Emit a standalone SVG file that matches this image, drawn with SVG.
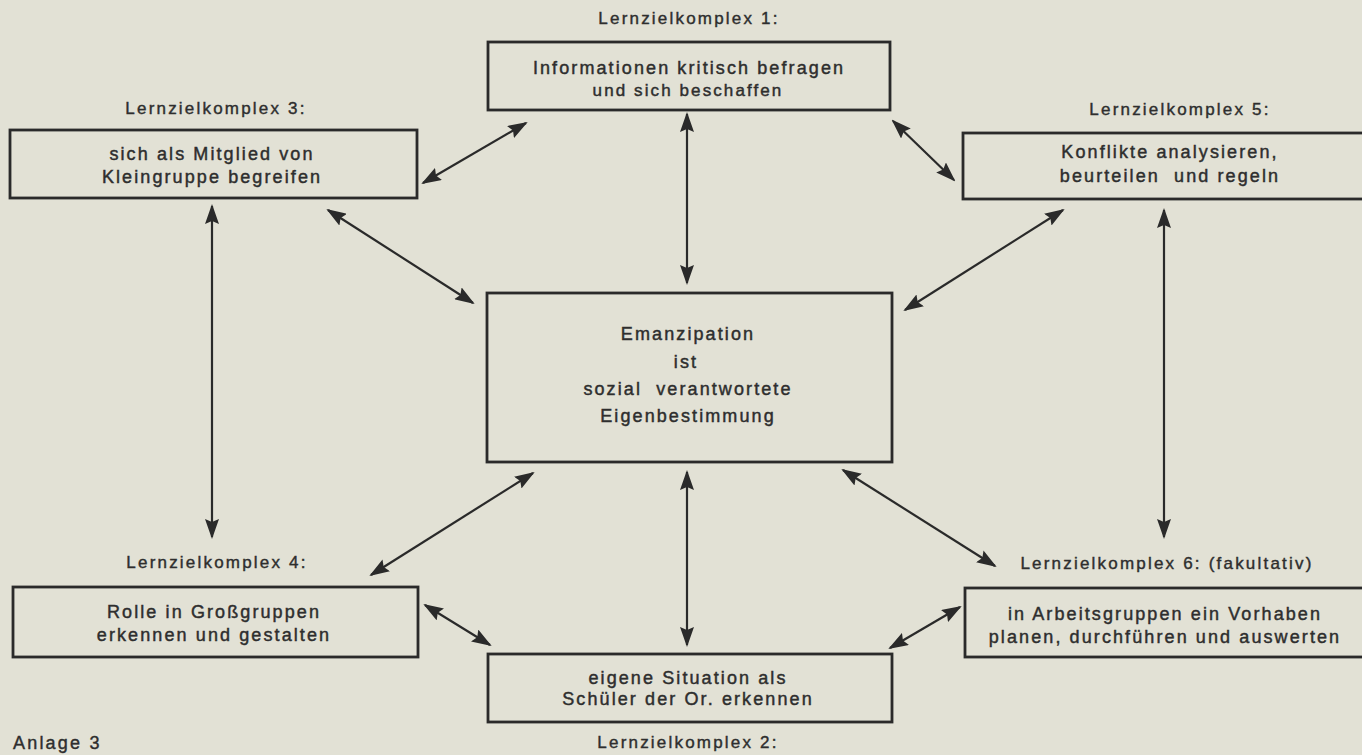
<svg xmlns="http://www.w3.org/2000/svg" width="1362" height="755" viewBox="0 0 1362 755">
<defs>
<style>
.bg{fill:#e2e1d5}
.box{fill:none;stroke:#2a2a2a;stroke-width:2.8}
.t{font-family:"Liberation Sans",Arial,sans-serif;font-size:18px;letter-spacing:2.1px;fill:#2e2e2e;stroke:#2e2e2e;stroke-width:0.45;text-anchor:middle}
.lbl{font-family:"Liberation Sans",Arial,sans-serif;font-size:17px;letter-spacing:2.2px;fill:#2e2e2e;stroke:#2e2e2e;stroke-width:0.4;text-anchor:middle}
.c{stroke:#2a2a2a;stroke-width:2.2;fill:none;marker-start:url(#ah);marker-end:url(#ah)}
</style>
<marker id="ah" viewBox="0 0 20 14" refX="18" refY="7" markerWidth="20" markerHeight="14" markerUnits="userSpaceOnUse" orient="auto-start-reverse">
<path d="M0,0 L20,7 L0,14 L3,7 Z" fill="#2a2a2a"/>
</marker>
</defs>
<rect class="bg" x="0" y="0" width="1362" height="755"/>

<g id="connectors">
<line class="c" x1="526" y1="123" x2="423" y2="183"/>
<line class="c" x1="893" y1="121" x2="954" y2="180"/>
<line class="c" x1="687" y1="114" x2="687" y2="283"/>
<line class="c" x1="328" y1="210" x2="473" y2="303"/>
<line class="c" x1="1063" y1="210" x2="905" y2="310"/>
<line class="c" x1="212" y1="206" x2="212" y2="537"/>
<line class="c" x1="1164" y1="210" x2="1164" y2="537"/>
<line class="c" x1="533" y1="473" x2="371" y2="575"/>
<line class="c" x1="843" y1="470" x2="995" y2="566"/>
<line class="c" x1="687" y1="472" x2="687" y2="645"/>
<line class="c" x1="425" y1="605" x2="490" y2="645"/>
<line class="c" x1="960" y1="607" x2="890" y2="648"/>
</g>

<g id="node1">
<text class="lbl" x="689" y="24">Lernzielkomplex 1:</text>
<rect class="box" x="488" y="42" width="402" height="68"/>
<text class="t" x="689" y="74">Informationen kritisch befragen</text>
<text class="t" x="688" y="96" style="font-size:17px">und sich beschaffen</text>
</g>

<g id="node3">
<text class="lbl" x="216" y="114">Lernzielkomplex 3:</text>
<rect class="box" x="10" y="130" width="407" height="68"/>
<text class="t" x="212" y="160">sich als Mitglied von</text>
<text class="t" x="212" y="183">Kleingruppe begreifen</text>
</g>

<g id="node5">
<text class="lbl" x="1180" y="115">Lernzielkomplex 5:</text>
<rect class="box" x="963" y="133" width="410" height="66"/>
<text class="t" x="1170" y="158">Konflikte analysieren,</text>
<text class="t" x="1170" y="182" xml:space="preserve">beurteilen  und regeln</text>
</g>

<g id="center">
<rect class="box" x="487" y="293" width="405" height="169"/>
<text class="t" x="688" y="340">Emanzipation</text>
<text class="t" x="686" y="368">ist</text>
<text class="t" x="688" y="395" xml:space="preserve">sozial  verantwortete</text>
<text class="t" x="688" y="422">Eigenbestimmung</text>
</g>

<g id="node4">
<text class="lbl" x="217" y="568">Lernzielkomplex 4:</text>
<rect class="box" x="13" y="587" width="405" height="70"/>
<text class="t" x="214" y="618">Rolle in Großgruppen</text>
<text class="t" x="214" y="641">erkennen und gestalten</text>
</g>

<g id="node6">
<text class="lbl" x="1167" y="569">Lernzielkomplex 6: (fakultativ)</text>
<rect class="box" x="965" y="588" width="410" height="69"/>
<text class="t" x="1165" y="620">in Arbeitsgruppen ein Vorhaben</text>
<text class="t" x="1165" y="643">planen, durchführen und auswerten</text>
</g>

<g id="node2">
<rect class="box" x="488" y="654" width="404" height="68"/>
<text class="t" x="688" y="684">eigene Situation als</text>
<text class="t" x="688" y="705">Schüler der Or. erkennen</text>
<text class="lbl" x="688" y="748">Lernzielkomplex 2:</text>
</g>

<text class="lbl" x="13" y="749" style="text-anchor:start;font-size:18px">Anlage 3</text>
</svg>
